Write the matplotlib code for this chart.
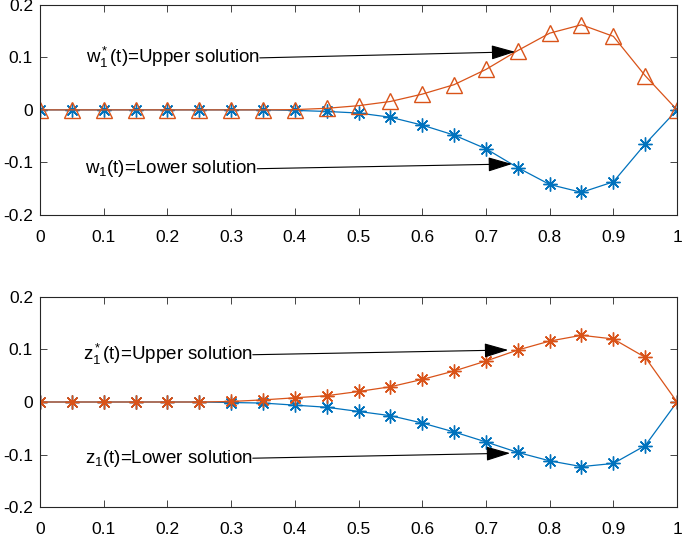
import numpy as np
import matplotlib
matplotlib.use("Agg")
import matplotlib.pyplot as plt
from matplotlib.ticker import FixedLocator, FixedFormatter

plt.rcParams['font.family'] = ['Liberation Sans', 'DejaVu Sans']
plt.rcParams['mathtext.fontset'] = 'custom'
plt.rcParams['mathtext.rm'] = 'Liberation Sans'
plt.rcParams['mathtext.it'] = 'Liberation Sans'
plt.rcParams['axes.unicode_minus'] = False

t = [0.0, 0.05, 0.1, 0.15, 0.2, 0.25, 0.3, 0.35, 0.4, 0.45, 0.5,
     0.55, 0.6, 0.65, 0.7, 0.75, 0.8, 0.85, 0.9, 0.95, 1.0]

w_upper = [0, 0, 0, 0, 0, 0, 0, 0, 0.0005, 0.003, 0.008,
           0.016, 0.030, 0.048, 0.077, 0.113, 0.146, 0.162, 0.140, 0.065, 0]
w_lower = [0, 0, 0, 0, 0, 0, 0, 0, -0.001, -0.003, -0.006,
           -0.014, -0.029, -0.048, -0.074, -0.110, -0.142, -0.157, -0.137, -0.065, 0]

z_upper = [0, 0, 0, 0, 0, 0, 0.001, 0.004, 0.008, 0.012, 0.020,
           0.029, 0.043, 0.059, 0.078, 0.099, 0.116, 0.127, 0.120, 0.085, 0]
z_lower = [0, 0, 0, 0, 0, 0, -0.001, -0.002, -0.006, -0.010, -0.018,
           -0.026, -0.040, -0.057, -0.076, -0.096, -0.112, -0.123, -0.117, -0.083, 0]

xticks = [0, 0.1, 0.2, 0.3, 0.4, 0.5, 0.6, 0.7, 0.8, 0.9, 1]
xticklabels = ['0', '0.1', '0.2', '0.3', '0.4', '0.5', '0.6', '0.7', '0.8', '0.9', '1']
yticks = [-0.2, -0.1, 0, 0.1, 0.2]
yticklabels = ['-0.2', '-0.1', '0', '0.1', '0.2']

top_labels = [r'w$_1^*$(t)=Upper solution', r'w$_1$(t)=Lower solution']
bot_labels = [r'z$_1^*$(t)=Upper solution', r'z$_1$(t)=Lower solution']

BLUE = '#0072BD'
ORANGE = '#D95319'
asterisk = (8, 2, 0)

fig = plt.figure(figsize=(6.85, 5.36), dpi=100)
ax1 = fig.add_axes([0.0584, 0.599, 0.930, 0.392])
ax2 = fig.add_axes([0.0584, 0.054, 0.930, 0.392])

def style(ax):
    ax.set_xlim(0, 1)
    ax.set_ylim(-0.2, 0.2)
    ax.xaxis.set_major_locator(FixedLocator(xticks))
    ax.xaxis.set_major_formatter(FixedFormatter(xticklabels))
    ax.yaxis.set_major_locator(FixedLocator(yticks))
    ax.yaxis.set_major_formatter(FixedFormatter(yticklabels))
    ax.tick_params(direction='in', top=True, right=True, length=5,
                   width=0.6, labelsize=12.5, colors='#262626',
                   labelcolor='black')
    ax.tick_params(axis='x', pad=11)
    ax.tick_params(axis='y', pad=5)
    for s in ax.spines.values():
        s.set_linewidth(0.8)
        s.set_color('#262626')

# Top panel
ax1.plot(t, w_lower, color=BLUE, lw=0.9, marker=asterisk, ms=10, mew=1.0)
ax1.plot(t, w_upper, color=ORANGE, lw=0.9, marker='^', ms=11, mew=1.0,
         mfc='none')
style(ax1)

arrowprops = dict(arrowstyle='-|>,head_length=1.5,head_width=0.45',
                  color='black', lw=0.8, shrinkA=0, shrinkB=0)
FS = 13.5
ax1.annotate('', xy=(0.746, 0.1105), xytext=(0.345, 0.099),
             arrowprops=arrowprops)
ax1.annotate('', xy=(0.741, -0.103), xytext=(0.341, -0.112),
             arrowprops=arrowprops)
ax1.text(0.345, 0.099, top_labels[0], ha='right', va='center', fontsize=FS)
ax1.text(0.341, -0.112, top_labels[1], ha='right', va='center', fontsize=FS)

# Bottom panel
ax2.plot(t, z_lower, color=BLUE, lw=0.9, marker=asterisk, ms=10, mew=1.0)
ax2.plot(t, z_upper, color=ORANGE, lw=0.9, marker=asterisk, ms=10, mew=1.0)
style(ax2)
ax2.annotate('', xy=(0.735, 0.099), xytext=(0.334, 0.090),
             arrowprops=arrowprops)
ax2.annotate('', xy=(0.738, -0.0975), xytext=(0.334, -0.107),
             arrowprops=arrowprops)
ax2.text(0.334, 0.090, bot_labels[0], ha='right', va='center', fontsize=FS)
ax2.text(0.334, -0.107, bot_labels[1], ha='right', va='center', fontsize=FS)

fig.savefig('out.png', dpi=100)
